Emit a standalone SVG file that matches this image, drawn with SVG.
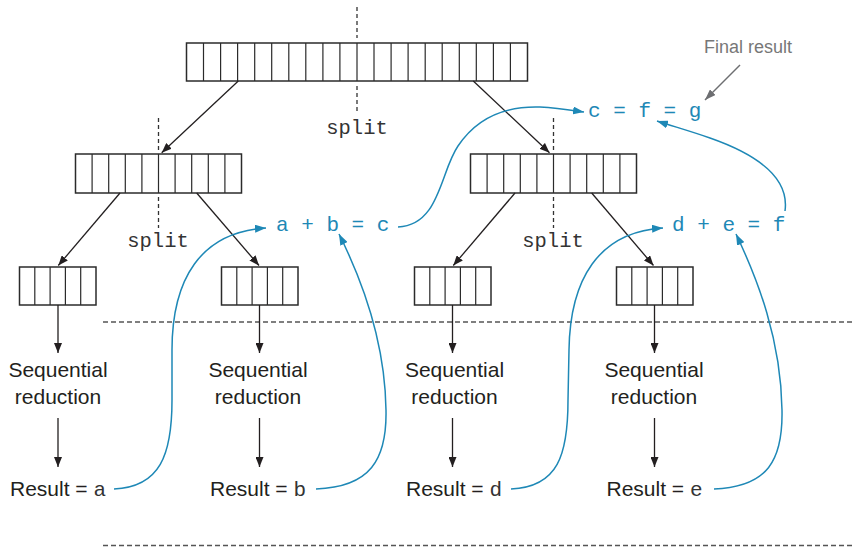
<svg xmlns="http://www.w3.org/2000/svg" width="853" height="548" viewBox="0 0 853 548">
<style>
.arr{fill:#fff;stroke:#2b2b2b;stroke-width:1.5}
.cell{stroke:#2b2b2b;stroke-width:1.2}
.dv{stroke:#333;stroke-width:1.3;stroke-dasharray:4,3}
.dh{stroke:#555;stroke-width:1.3;stroke-dasharray:5,3}
.ln{stroke:#231f20;stroke-width:1.3;fill:none}
.bl{stroke:#1e88b6;stroke-width:1.5;fill:none}
.sans{font-family:"Liberation Sans",Arial,sans-serif;font-size:21px;fill:#231f20}
tspan.mono{font-family:"Liberation Mono","Courier New",monospace;fill:#333}
.split{font-family:"Liberation Mono","Courier New",monospace;font-size:20.5px;fill:#333}
.btxt{font-family:"Liberation Mono","Courier New",monospace;font-size:21px;fill:#1e88b6}
</style>
<defs>
<marker id="ah" markerUnits="userSpaceOnUse" markerWidth="10" markerHeight="8" refX="10" refY="4" orient="auto"><path d="M0,0 L10,4 L0,8 z" fill="#231f20"/></marker>
<marker id="bh" markerUnits="userSpaceOnUse" markerWidth="11" markerHeight="8" refX="11" refY="4" orient="auto"><path d="M0,0 L11,4 L0,8 z" fill="#1e88b6"/></marker>
<marker id="gh" markerUnits="userSpaceOnUse" markerWidth="11" markerHeight="8" refX="11" refY="4" orient="auto"><path d="M0,0 L11,4 L0,8 z" fill="#6d6e71"/></marker>
</defs>

<!-- separators -->
<line class="dh" x1="103" y1="322" x2="853" y2="322"/>
<line class="dh" x1="103" y1="545.5" x2="853" y2="545.5"/>

<g id="top-array">
<rect class="arr" x="186.5" y="43" width="341" height="38"/>
<path class="cell" d="M203.5,43V81M220.6,43V81M237.6,43V81M254.7,43V81M271.7,43V81M288.8,43V81M305.8,43V81M322.9,43V81M339.9,43V81M357,43V81M374,43V81M391.1,43V81M408.1,43V81M425.2,43V81M442.2,43V81M459.3,43V81M476.3,43V81M493.4,43V81M510.4,43V81"/>
<line class="dv" x1="357" y1="7" x2="357" y2="38"/>
<line class="dv" x1="357" y1="86" x2="357" y2="114"/>
<text class="split" x="357" y="134" text-anchor="middle">split</text>
</g>

<g id="mid-left-array">
<rect class="arr" x="75.5" y="154" width="166" height="39"/>
<path class="cell" d="M92.1,154V193M108.7,154V193M125.3,154V193M141.9,154V193M158.5,154V193M175.1,154V193M191.7,154V193M208.3,154V193M224.9,154V193"/>
<line class="dv" x1="158.5" y1="118" x2="158.5" y2="150"/>
<line class="dv" x1="158.5" y1="197" x2="158.5" y2="228"/>
<text class="split" x="158" y="247" text-anchor="middle">split</text>
</g>

<g id="mid-right-array">
<rect class="arr" x="470.5" y="154" width="166" height="39"/>
<path class="cell" d="M487.1,154V193M503.7,154V193M520.3,154V193M536.9,154V193M553.5,154V193M570.1,154V193M586.7,154V193M603.3,154V193M619.9,154V193"/>
<line class="dv" x1="553.5" y1="118" x2="553.5" y2="150"/>
<line class="dv" x1="553.5" y1="197" x2="553.5" y2="228"/>
<text class="split" x="553" y="247" text-anchor="middle">split</text>
</g>

<g id="leaf1">
<rect class="arr" x="19.5" y="267" width="76.5" height="38"/>
<path class="cell" d="M34.8,267V305M50.1,267V305M65.4,267V305M80.7,267V305"/>
<text class="sans" x="58" y="377" text-anchor="middle">Sequential</text>
<text class="sans" x="58" y="404" text-anchor="middle">reduction</text>
<text class="sans" x="10" y="496">Result = <tspan class="mono" style="font-family:'Liberation Mono','Courier New',monospace">a</tspan></text>
</g>
<g id="leaf2">
<rect class="arr" x="221.5" y="267" width="76.5" height="38"/>
<path class="cell" d="M236.8,267V305M252.1,267V305M267.4,267V305M282.7,267V305"/>
<text class="sans" x="258" y="377" text-anchor="middle">Sequential</text>
<text class="sans" x="258" y="404" text-anchor="middle">reduction</text>
<text class="sans" x="210" y="496">Result = <tspan class="mono" style="font-family:'Liberation Mono','Courier New',monospace">b</tspan></text>
</g>
<g id="leaf3">
<rect class="arr" x="414.5" y="267" width="76.5" height="38"/>
<path class="cell" d="M429.8,267V305M445.1,267V305M460.4,267V305M475.7,267V305"/>
<text class="sans" x="454.5" y="377" text-anchor="middle">Sequential</text>
<text class="sans" x="454.5" y="404" text-anchor="middle">reduction</text>
<text class="sans" x="406" y="496">Result = <tspan class="mono" style="font-family:'Liberation Mono','Courier New',monospace">d</tspan></text>
</g>
<g id="leaf4">
<rect class="arr" x="616.5" y="267" width="76.5" height="38"/>
<path class="cell" d="M631.8,267V305M647.1,267V305M662.4,267V305M677.7,267V305"/>
<text class="sans" x="654" y="377" text-anchor="middle">Sequential</text>
<text class="sans" x="654" y="404" text-anchor="middle">reduction</text>
<text class="sans" x="606.5" y="496">Result = <tspan class="mono" style="font-family:'Liberation Mono','Courier New',monospace">e</tspan></text>
</g>

<g id="combine-abc"><text class="btxt" x="276" y="231">a + b = c</text></g>
<g id="combine-def"><text class="btxt" x="672" y="231">d + e = f</text></g>
<g id="combine-final"><text class="btxt" x="588" y="117">c = f = g</text></g>
<g id="final-label"><text x="704" y="53" style="font-family:'Liberation Sans',Arial,sans-serif;font-size:18px;fill:#777">Final result</text></g>

<g id="connectors">
<line class="ln" x1="238.3" y1="81" x2="161.7" y2="152.7" marker-end="url(#ah)"/>
<line class="ln" x1="473.3" y1="81" x2="549.5" y2="152.7" marker-end="url(#ah)"/>
<line class="ln" x1="120" y1="193" x2="58.3" y2="265.5" marker-end="url(#ah)"/>
<line class="ln" x1="196.7" y1="193" x2="259" y2="265.5" marker-end="url(#ah)"/>
<line class="ln" x1="515" y1="193" x2="453.3" y2="265.5" marker-end="url(#ah)"/>
<line class="ln" x1="591.7" y1="193" x2="653.5" y2="265.5" marker-end="url(#ah)"/>
<line class="ln" x1="58" y1="305" x2="58" y2="353" marker-end="url(#ah)"/>
<line class="ln" x1="259.5" y1="305" x2="259.5" y2="353" marker-end="url(#ah)"/>
<line class="ln" x1="452.5" y1="305" x2="452.5" y2="353" marker-end="url(#ah)"/>
<line class="ln" x1="654.5" y1="305" x2="654.5" y2="353" marker-end="url(#ah)"/>
<line class="ln" x1="58" y1="418" x2="58" y2="467" marker-end="url(#ah)"/>
<line class="ln" x1="259.5" y1="418" x2="259.5" y2="467" marker-end="url(#ah)"/>
<line class="ln" x1="452.5" y1="418" x2="452.5" y2="467" marker-end="url(#ah)"/>
<line class="ln" x1="654.5" y1="418" x2="654.5" y2="467" marker-end="url(#ah)"/>
<line x1="740" y1="65" x2="705" y2="100" stroke="#6d6e71" stroke-width="1.5" marker-end="url(#gh)"/>
<path class="bl" d="M114,489 C160,487 172,455 172,400 L172,350 C172,280 200,232 266,228" marker-end="url(#bh)"/>
<path class="bl" d="M316,489 C370,487 387,460 386,410 C385,340 362,280 339,234" marker-end="url(#bh)"/>
<path class="bl" d="M398,227 C440,225 440,172 458,146 C478,116 508,106 540,107 C558,108 570,110 584,112" marker-end="url(#bh)"/>
<path class="bl" d="M511,489 C558,487 568,455 568,400 L569,350 C570,280 598,232 663,228" marker-end="url(#bh)"/>
<path class="bl" d="M714,489 C768,487 783,460 782,410 C781,340 758,280 736,234" marker-end="url(#bh)"/>
<path class="bl" d="M785,211 C790,175 750,152 710,138 C690,131 672,126 657,121" marker-end="url(#bh)"/>
</g>
</svg>
